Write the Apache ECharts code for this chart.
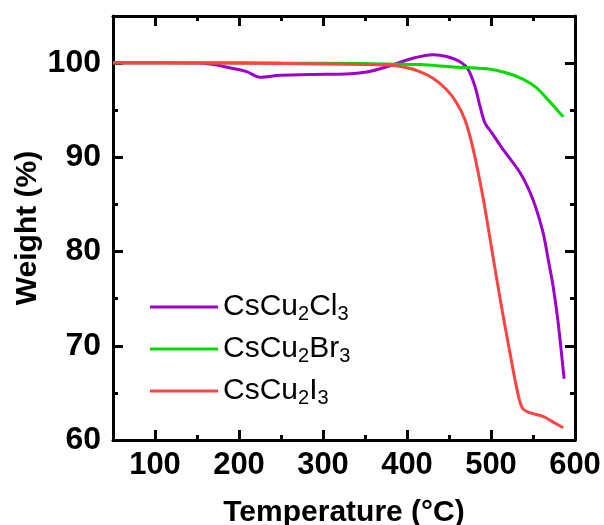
<!DOCTYPE html>
<html>
<head>
<meta charset="utf-8">
<script src="https://cdn.jsdelivr.net/npm/echarts@6/dist/echarts.min.js"></script>
<style>html,body{margin:0;padding:0;background:#fff}#c{width:604px;height:525px}</style>
</head>
<body>
<div id="c"></div>
<script>
// ---- data ----
const seriesNames = ['CsCu2Cl3', 'CsCu2Br3', 'CsCu2I3'];
const clT = [50, 100, 150, 170, 189, 209, 225, 249, 288, 328, 352, 368, 384, 408, 431, 447, 464, 473, 481, 487, 493, 501, 513, 535, 550, 562, 568, 574, 580, 587];
const clW = [100.05, 100.05, 100.0, 99.85, 99.5, 99.1, 98.5, 98.7, 98.8, 98.85, 99.05, 99.4, 99.85, 100.55, 100.9, 100.7, 100.1, 99.3, 97.5, 95.4, 93.6, 92.6, 91.0, 88.3, 85.5, 82.0, 79.2, 76.3, 72.4, 66.5];
const brT = [50, 150, 250, 350, 415, 455, 495, 519, 538, 554, 568, 578, 586];
const brW = [100.05, 100.05, 100.0, 99.95, 99.85, 99.6, 99.4, 98.95, 98.3, 97.4, 96.1, 95.1, 94.3];
const iT = [50, 150, 250, 350, 384, 400, 415, 431, 447, 459, 469, 479, 491, 501, 511, 521, 529, 534, 538, 546, 562, 574, 586];
const iW = [100.0, 100.0, 99.95, 99.85, 99.75, 99.5, 99.1, 98.4, 97.2, 95.8, 94.0, 90.8, 85.5, 80.2, 74.9, 70.0, 66.2, 64.2, 63.3, 62.9, 62.5, 61.9, 61.3];
// tick positions (every 50 / every 5) and which of them carry labels
const xTicks = ['50', '100', '150', '200', '250', '300', '350', '400', '450', '500', '550', '600'];
const xTickLabels = ['100', '200', '300', '400', '500', '600'];
const yTicks = ['60', '65', '70', '75', '80', '85', '90', '95', '100', '105'];
const yTickLabels = ['60', '70', '80', '90', '100'];
const colors = ['#9d00cc', '#00dc00', '#ff4242'];

const pair = (t, w) => t.map((v, i) => [v, w[i]]);
const FONT = 'Liberation Sans, Arial, sans-serif';
const BLACK = '#000';

const chart = echarts.init(document.getElementById('c'), null, {renderer: 'canvas'});
const grid = {left: 113, right: 29, top: 16, bottom: 85, outerBoundsMode: 'none', containLabel: false};

function catAxis(dim, pos, cats, labels, major, showLabels, showLine) {
  const isMajor = (i, v) => labels.indexOf(String(v)) >= 0;
  return {
    type: 'category', position: pos, data: cats, boundaryGap: false,
    axisLine: {show: showLine, onZero: false, lineStyle: {color: BLACK, width: 3}},
    axisTick: {show: true, inside: true, alignWithLabel: true, length: major ? 10 : 5,
               interval: major ? isMajor : (i, v) => !isMajor(i, v),
               lineStyle: {color: BLACK, width: 3}},
    axisLabel: showLabels ? {show: true, interval: isMajor, margin: dim === 'x' ? 10 : 12,
               fontFamily: FONT, fontWeight: 'bold', fontSize: dim === 'x' ? 31 : 32, color: BLACK}
               : {show: false},
    splitLine: {show: false}
  };
}

const legendRich = {
  n: {fontFamily: FONT, fontSize: 30, color: BLACK, lineHeight: 34},
  s: {fontFamily: FONT, fontSize: 20, color: BLACK, lineHeight: 20, verticalAlign: 'bottom'}
};
function fmtName(name) {
  return '{n|' + name.replace(/(\d)/g, '}{s|$1}{n|') + '}';
}

chart.setOption({
  animation: false,
  backgroundColor: '#fff',
  grid: grid,
  xAxis: [
    {type: 'value', position: 'bottom', min: 50, max: 600, interval: 50,
     name: 'Temperature (°C)', nameLocation: 'middle', nameGap: 58,
     nameTextStyle: {fontFamily: FONT, fontWeight: 'bold', fontSize: 30, color: BLACK},
     axisLine: {show: false, onZero: false}, axisTick: {show: false}, axisLabel: {show: false}, splitLine: {show: false}},
    catAxis('x', 'bottom', xTicks, xTickLabels, true, true, true),
    catAxis('x', 'bottom', xTicks, xTickLabels, false, false, false),
    catAxis('x', 'top', xTicks, xTickLabels, true, false, true),
    catAxis('x', 'top', xTicks, xTickLabels, false, false, false)
  ],
  yAxis: [
    {type: 'value', position: 'left', min: 60, max: 105, interval: 5,
     name: 'Weight (%)', nameLocation: 'middle', nameGap: 70,
     nameTextStyle: {fontFamily: FONT, fontWeight: 'bold', fontSize: 30, color: BLACK},
     axisLine: {show: false, onZero: false}, axisTick: {show: false}, axisLabel: {show: false}, splitLine: {show: false}},
    catAxis('y', 'left', yTicks, yTickLabels, true, true, true),
    catAxis('y', 'left', yTicks, yTickLabels, false, false, false),
    catAxis('y', 'right', yTicks, yTickLabels, true, false, true),
    catAxis('y', 'right', yTicks, yTickLabels, false, false, false)
  ],
  legend: {
    orient: 'vertical', left: 145, top: 287, itemWidth: 68, itemHeight: 3, itemGap: 10,
    icon: 'rect',
    data: seriesNames,
    formatter: fmtName,
    textStyle: {fontFamily: FONT, fontSize: 30, color: BLACK, rich: legendRich}
  },
  series: [
    {name: seriesNames[0], type: 'line', data: pair(clT, clW), color: colors[0], smooth: 0.3, showSymbol: false, lineStyle: {width: 3}, xAxisIndex: 0, yAxisIndex: 0},
    {name: seriesNames[1], type: 'line', data: pair(brT, brW), color: colors[1], smooth: 0.3, showSymbol: false, lineStyle: {width: 3}, xAxisIndex: 0, yAxisIndex: 0},
    {name: seriesNames[2], type: 'line', data: pair(iT, iW), color: colors[2], smooth: 0.3, showSymbol: false, lineStyle: {width: 3}, xAxisIndex: 0, yAxisIndex: 0}
  ]
});
</script>
</body>
</html>
